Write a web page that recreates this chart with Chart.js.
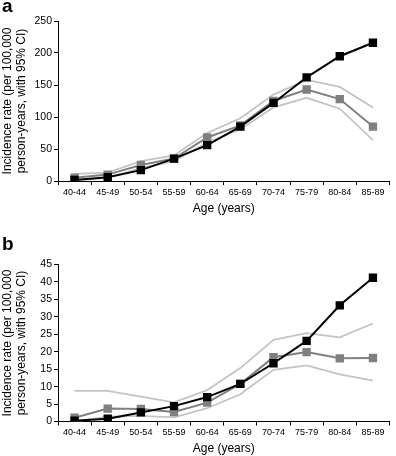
<!DOCTYPE html>
<html>
<head>
<meta charset="utf-8">
<script src="https://cdn.jsdelivr.net/npm/chart.js@4/dist/chart.umd.min.js"></script>
<style>
    body { margin: 0; background: #fff; }
    #wrap { position: relative; width: 396px; height: 456px; font-family: "Liberation Sans", Arial, sans-serif; }
    .panel { position: absolute; left: 0; width: 396px; height: 228px; }
    .tag { position: absolute; left: 2px; font-weight: bold; font-size: 19px; color: #000; }
</style>
</head>
<body>
<div id="wrap">
    <div class="panel" style="top:0"><canvas id="chartA" width="396" height="228"></canvas></div>
    <div class="panel" style="top:228px"><canvas id="chartB" width="396" height="228"></canvas></div>
    <div class="tag" style="top:-5px">a</div>
    <div class="tag" style="top:233px">b</div>
</div>
<script>
var ages = ["40-44", "45-49", "50-54", "55-59", "60-64", "65-69", "70-74", "75-79", "80-84", "85-89"];

// panel a
var aObserved = [1.5, 6, 17, 35, 56, 85, 122, 162, 195, 216];
var aExpected = [5, 10, 25, 35, 68, 87, 125, 143, 128, 85];
var aUpper = [11, 13, 31, 40, 75, 98, 135, 158, 147, 115];
var aLower = [1, 5, 20, 31, 60, 81, 115, 130, 113, 64];
var aTicks = [0, 50, 100, 150, 200, 250];

// panel b
var bObserved = [0.2, 0.8, 2.6, 4.4, 7.0, 10.8, 16.7, 23.1, 33.3, 41.2];
var bExpected = [1.1, 3.7, 3.6, 2.7, 5.4, 10.8, 18.4, 19.9, 18.1, 18.2];
var bUpper = [8.8, 8.8, 7.1, 5.5, 9, 15.3, 23.4, 25.3, 24.1, 28.1];
var bLower = [0, 1.4, 1.6, 1.2, 3.8, 7.8, 14.8, 16.1, 13.5, 11.7];
var bTicks = [0, 5, 10, 15, 20, 25, 30, 35, 40, 45];

var font = "'Liberation Sans', Arial, sans-serif";

function makeChart(id, observed, expected, upper, lower, yTicks, padTop, padBottom, xHeight)
{
    var ctx = document.getElementById(id);
    return new Chart(ctx, {
        type: "line",
        data: {
            labels: ages,
            datasets: [
                { data: observed, borderColor: "#000", backgroundColor: "#000", borderWidth: 2,
                  pointStyle: "rect", pointRadius: 4.5, tension: 0 },
                { data: expected, borderColor: "#808080", backgroundColor: "#808080", borderWidth: 2,
                  pointStyle: "rect", pointRadius: 4.5, tension: 0 },
                { data: upper, borderColor: "#c4c4c4", borderWidth: 1.8, pointRadius: 0, tension: 0 },
                { data: lower, borderColor: "#c4c4c4", borderWidth: 1.8, pointRadius: 0, tension: 0 }
            ]
        },
        options: {
            responsive: false,
            animation: false,
            layout: { padding: { top: padTop, right: 0, bottom: padBottom, left: 0 } },
            plugins: { legend: { display: false }, tooltip: { enabled: false } },
            scales: {
                x: {
                    offset: true,
                    grid: { offset: true, drawOnChartArea: false, drawTicks: true, tickLength: 4, color: "#000" },
                    border: { color: "#000", width: 1 },
                    ticks: { color: "#000", font: { family: font, size: 9 }, maxRotation: 0, autoSkip: false, padding: 2 },
                    title: { display: true, text: "Age (years)", color: "#000", font: { family: font, size: 12 }, padding: { top: 3, bottom: 0 } },
                    afterFit: function (axis) { axis.height = xHeight; }
                },
                y: {
                    min: yTicks[0],
                    max: yTicks[yTicks.length - 1],
                    afterBuildTicks: function (axis) { axis.ticks = yTicks.map(function (v) { return { value: v }; }); },
                    grid: { drawOnChartArea: false, drawTicks: true, tickLength: 4, color: "#000" },
                    border: { color: "#000", width: 1 },
                    ticks: { color: "#000", font: { family: font, size: 10.5 }, padding: 2 },
                    title: { display: true, text: ["Incidence rate (per 100,000", "person-years, with 95% CI)"], color: "#000",
                             font: { family: font, size: 12, lineHeight: 1.15 }, padding: { top: 1, bottom: 0 } },
                    afterFit: function (axis) { axis.width = 58; }
                }
            }
        }
    });
}

makeChart("chartA", aObserved, aExpected, aUpper, aLower, aTicks, 21, 12, 35);
makeChart("chartB", bObserved, bExpected, bUpper, bLower, bTicks, 36.5, 0, 34.5);
</script>
</body>
</html>
